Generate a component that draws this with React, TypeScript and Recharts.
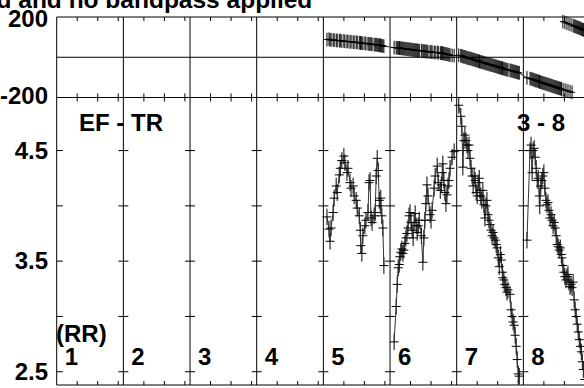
import React from "react";
import { ComposedChart, Line, XAxis, YAxis, ReferenceLine, ErrorBar } from "recharts";

// scan boundaries (minutes), 13 min per scan
const SCAN_EDGES = [13, 26, 39, 52, 65, 78, 91, 104];
const SCAN_STARTS = [0, 13, 26, 39, 52, 65, 78, 91];
const SCAN_NUMBERS = ["1", "2", "3", "4", "5", "6", "7", "8"];
const TIME_TICKS = [4, 8, 12, 17, 21, 25, 30, 34, 38, 43, 47, 51, 56, 60, 64, 69, 73, 77, 82, 86, 90, 95, 99, 103, 108, 112, 116];

const PHASE_TICKS = [200, -200];
const AMP_TICKS = [4.5, 4.0, 3.5, 3.0, 2.5];
const AMP_LABELS = [4.5, 3.5, 2.5];

const TIME_DOMAIN: [number, number] = [0, 117];
const PHASE_DOMAIN: [number, number] = [-200, 200];
const AMP_DOMAIN: [number, number] = [2.38, 4.98];

const AMP_ERR = 0.075;
const PHASE_ERR = 34;

const scan5Time = [52.7, 53.1, 53.3, 53.5, 53.9, 54.1, 54.5, 54.7, 55.1, 55.3, 55.6, 56.0, 56.2, 56.6, 56.8, 57.2, 57.4, 57.8, 58.0, 58.4, 58.6, 59.0, 59.2, 59.3, 59.5, 59.7, 60.1, 60.3, 60.7, 60.9, 61.1, 61.3, 61.5, 61.9, 62.1, 62.3, 62.5, 62.7, 62.9, 63.1, 63.2, 63.4, 63.6, 63.8];
const scan5Amp = [3.90, 3.79, 3.68, 3.80, 3.94, 4.07, 4.18, 4.12, 4.28, 4.34, 4.41, 4.45, 4.39, 4.30, 4.34, 4.21, 4.16, 4.18, 4.09, 4.05, 3.98, 3.91, 3.78, 3.64, 3.57, 3.73, 3.82, 3.87, 3.94, 4.21, 4.23, 3.89, 3.85, 3.91, 3.94, 4.27, 4.43, 4.32, 4.05, 4.00, 4.07, 3.91, 3.80, 3.46];
const scan5Phase = [88, 90, 86, 87, 85, 86, 83, 84, 82, 83, 80, 81, 79, 78, 79, 76, 77, 75, 74, 75, 73, 72, 71, 72, 70, 69, 70, 67, 68, 66, 65, 66, 64, 63, 62, 63, 61, 60, 59, 60, 58, 57, 56, 55];

const scan6Time = [65.8, 66.2, 66.4, 66.6, 66.8, 66.9, 67.1, 67.3, 67.5, 67.7, 67.9, 68.1, 68.3, 68.5, 68.7, 68.9, 69.1, 69.3, 69.5, 69.7, 69.9, 70.1, 70.3, 70.5, 70.7, 71.1, 71.4, 71.6, 71.8, 72.0, 72.2, 72.4, 72.8, 73.0, 73.2, 73.6, 73.8, 74.2, 74.4, 74.8, 75.0, 75.2, 75.3, 75.5, 75.7, 75.9, 76.1, 76.3, 76.5, 76.7, 77.1, 77.5];
const scan6Amp = [2.77, 3.09, 3.29, 3.44, 3.47, 3.54, 3.58, 3.61, 3.57, 3.60, 3.66, 3.71, 3.75, 3.80, 3.91, 3.94, 3.85, 3.78, 3.71, 3.85, 3.93, 3.82, 3.76, 3.82, 3.87, 3.73, 3.49, 3.71, 3.87, 4.02, 4.19, 4.09, 3.92, 3.87, 3.96, 4.16, 4.27, 4.36, 4.21, 4.14, 4.19, 4.30, 4.38, 4.23, 4.12, 4.02, 4.10, 4.18, 4.23, 4.34, 4.44, 4.49];
const scan6Phase = [48, 47, 47, 46, 45, 46, 44, 45, 43, 42, 43, 41, 40, 41, 39, 38, 39, 37, 36, 37, 35, 34, 35, 33, 32, 33, 31, 30, 29, 30, 28, 27, 26, 27, 25, 24, 23, 24, 22, 21, 20, 21, 19, 18, 17, 16, 15, 14, 12, 11, 9, 8];

const scan7Time = [78.4, 78.8, 79.0, 79.2, 79.4, 79.6, 79.8, 80.0, 80.2, 80.4, 80.6, 80.8, 81.0, 81.2, 81.4, 81.6, 81.8, 82.0, 82.2, 82.4, 82.5, 82.7, 82.9, 83.1, 83.3, 83.5, 83.7, 83.9, 84.1, 84.3, 84.5, 84.7, 84.9, 85.1, 85.3, 85.5, 85.7, 85.9, 86.1, 86.3, 86.5, 86.7, 86.9, 87.0, 87.2, 87.4, 87.6, 87.8, 88.0, 88.4, 88.6, 88.8, 89.0, 89.2, 89.4, 89.6, 89.8, 90.0, 90.2];
const scan7Amp = [4.91, 4.81, 4.72, 4.35, 4.59, 4.64, 4.59, 4.55, 4.50, 4.55, 4.43, 4.34, 4.27, 4.18, 4.27, 4.23, 4.12, 4.09, 4.21, 4.25, 4.14, 4.09, 4.05, 4.14, 4.01, 3.89, 4.00, 4.05, 3.92, 3.87, 3.83, 3.78, 3.73, 3.76, 3.71, 3.69, 3.65, 3.62, 3.53, 3.45, 3.56, 3.51, 3.40, 3.35, 3.33, 3.29, 3.26, 3.22, 3.24, 3.20, 3.06, 3.00, 2.95, 2.92, 2.83, 2.73, 2.61, 2.48, 2.46];
const scan7Phase = [10, 7, 7, 4, 2, 2, -1, -2, -4, -5, -7, -7, -10, -11, -12, -15, -15, -18, -19, -20, -22, -23, -25, -26, -27, -30, -30, -33, -34, -35, -37, -38, -40, -40, -43, -44, -45, -48, -48, -51, -52, -53, -55, -55, -58, -59, -60, -62, -63, -65, -66, -68, -69, -71, -72, -74, -75, -77, -78];

const scan8Time = [91.7, 92.3, 92.5, 92.7, 92.9, 93.1, 93.3, 93.5, 93.7, 93.9, 94.1, 94.2, 94.4, 94.6, 94.8, 95.0, 95.2, 95.4, 95.6, 95.8, 96.0, 96.2, 96.4, 96.6, 96.8, 97.0, 97.2, 97.4, 97.6, 97.8, 98.0, 98.2, 98.4, 98.5, 98.7, 98.9, 99.1, 99.3, 99.5, 99.7, 99.9, 100.1, 100.3, 100.5, 100.7, 100.9, 101.1, 101.3, 101.5, 101.7, 101.9, 102.1, 102.3, 102.5, 102.7, 103.0];
const scan8Amp = [3.69, 4.50, 4.55, 4.30, 4.50, 4.52, 4.44, 4.34, 4.23, 4.25, 4.09, 4.00, 4.18, 4.23, 4.27, 4.30, 4.16, 4.05, 4.01, 4.03, 3.96, 3.89, 3.92, 3.87, 3.82, 3.85, 3.80, 3.73, 3.65, 3.63, 3.60, 3.62, 3.56, 3.53, 3.46, 3.40, 3.36, 3.33, 3.36, 3.38, 3.31, 3.27, 3.29, 3.26, 3.31, 3.15, 3.06, 3.00, 2.93, 2.86, 2.79, 2.73, 2.68, 2.59, 2.52, 2.43];
const scan8Phase = [-102, -106, -107, -109, -111, -112, -115, -116, -117, -120, -121, -122, -124, -126, -127, -130, -131, -132, -134, -136, -137, -139, -141, -142, -145, -146, -147, -149, -151, -153, -154, -156, -157, -160, 177, -162, 173, -165, 169, -168, 165, -171, 161, -174, 157, 155, 153, 151, 149, 147, 145, 143, 140, 138, 136, 132];

const scans = [
  { time: scan5Time, amp: scan5Amp, phase: scan5Phase },
  { time: scan6Time, amp: scan6Amp, phase: scan6Phase },
  { time: scan7Time, amp: scan7Amp, phase: scan7Phase },
  { time: scan8Time, amp: scan8Amp, phase: scan8Phase },
];

const ampSeries = scans.map((s) => s.time.map((t, i) => ({ t, amp: s.amp[i], err: AMP_ERR })));
const phaseRows = scans.flatMap((s) => s.time.map((t, i) => ({ t, ph: s.phase[i], err: PHASE_ERR })));
// phases past -180 wrap round to the top of the panel
const phaseMain = phaseRows.filter((r) => r.t < 91 || r.ph < 0);
const phaseWrap = phaseRows.filter((r) => r.t >= 91 && r.ph > 0);

const FONT = "'Liberation Sans', Arial, Helvetica, sans-serif";
const INK = "#000";
const FS = 24;

const crossDot = (half: number) => (props: any) => (
  <line
    key={`c-${props.index}`}
    x1={props.cx - half}
    x2={props.cx + half}
    y1={props.cy}
    y2={props.cy}
    stroke={INK}
    strokeWidth={1}
  />
);

const YTick = (props: any) => {
  const { y, payload } = props;
  const v = payload.value;
  const dy = v === 200 ? 10 : v === -200 ? 6 : 8;
  return (
    <text x={48} y={y + dy} textAnchor="end" fontSize={FS} fontWeight="bold" fontFamily={FONT} fill={INK}>
      {v}
    </text>
  );
};

export default function App() {
  return (
    <div
      style={{
        position: "absolute",
        left: 0,
        top: 0,
        width: 584,
        height: 388,
        overflow: "hidden",
        background: "#fff",
      }}
    >
      {/* phase panel */}
      <div style={{ position: "absolute", left: 0, top: 0 }}>
        <ComposedChart width={660} height={110} margin={{ top: 17, right: 3.3, bottom: 12.5, left: 0 }}>
          <XAxis type="number" dataKey="t" domain={TIME_DOMAIN} allowDataOverflow hide />
          <YAxis
            type="number"
            domain={PHASE_DOMAIN}
            allowDataOverflow
            ticks={PHASE_TICKS}
            width={56.7}
            tick={<YTick />}
            tickLine={false}
            axisLine={{ stroke: INK }}
          />
          <ReferenceLine y={200} stroke={INK} />
          <ReferenceLine y={0} stroke={INK} />
          <ReferenceLine y={-200} stroke={INK} />
          {SCAN_EDGES.map((e) => (
            <ReferenceLine key={`d${e}`} x={e} stroke={INK} />
          ))}
          {TIME_TICKS.map((t) => (
            <ReferenceLine
              key={`tt${t}`}
              segment={[{ x: t, y: 200 }, { x: t, y: 180 }]}
              stroke={INK}
              ifOverflow="visible"
            />
          ))}
          {TIME_TICKS.map((t) => (
            <ReferenceLine
              key={`tm${t}`}
              segment={[{ x: t, y: -180 }, { x: t, y: -220 }]}
              stroke={INK}
              ifOverflow="visible"
            />
          ))}
          <Line
            data={phaseMain}
            dataKey="ph"
            type="linear"
            stroke="#333"
            strokeWidth={1}
            dot={crossDot(3)}
            activeDot={false}
            isAnimationActive={false}
          >
            <ErrorBar dataKey="err" direction="y" width={0} stroke={INK} strokeWidth={1} />
          </Line>
          <Line
            data={phaseWrap}
            dataKey="ph"
            type="linear"
            stroke="#333"
            strokeWidth={1}
            dot={crossDot(3)}
            activeDot={false}
            isAnimationActive={false}
          >
            <ErrorBar dataKey="err" direction="y" width={0} stroke={INK} strokeWidth={1} />
          </Line>
        </ComposedChart>
      </div>

      {/* amplitude panel */}
      <div style={{ position: "absolute", left: 0, top: 0 }}>
        <ComposedChart width={660} height={390} margin={{ top: 97.5, right: 3.3, bottom: 5, left: 0 }}>
          <XAxis type="number" dataKey="t" domain={TIME_DOMAIN} allowDataOverflow hide />
          <YAxis
            type="number"
            domain={AMP_DOMAIN}
            allowDataOverflow
            ticks={AMP_LABELS}
            width={56.7}
            tick={<YTick />}
            tickLine={false}
            axisLine={{ stroke: INK }}
          />
          <ReferenceLine y={AMP_DOMAIN[0]} stroke={INK} />
          {SCAN_EDGES.map((e) => (
            <ReferenceLine key={`d${e}`} x={e} stroke={INK} />
          ))}
          {TIME_TICKS.map((t) => (
            <ReferenceLine
              key={`tb${t}`}
              segment={[{ x: t, y: AMP_DOMAIN[0] }, { x: t, y: AMP_DOMAIN[0] + 0.036 }]}
              stroke={INK}
              ifOverflow="visible"
            />
          ))}
          {AMP_TICKS.map((v) => (
            <ReferenceLine
              key={`yl${v}`}
              segment={[{ x: 0, y: v }, { x: 1.2, y: v }]}
              stroke={INK}
              ifOverflow="visible"
            />
          ))}
          {SCAN_EDGES.flatMap((e) =>
            AMP_TICKS.map((v) => (
              <ReferenceLine
                key={`dt${e}-${v}`}
                segment={[{ x: e - 0.975, y: v }, { x: e + 0.975, y: v }]}
                stroke={INK}
                ifOverflow="visible"
              />
            ))
          )}
          {ampSeries.map((rows, i) => (
            <Line
              key={`amp${i}`}
              data={rows}
              dataKey="amp"
              type="linear"
              stroke="#333"
              strokeWidth={1}
              dot={crossDot(4.5)}
              activeDot={false}
              isAnimationActive={false}
            >
              <ErrorBar dataKey="err" direction="y" width={0} stroke={INK} strokeWidth={1} />
            </Line>
          ))}
        </ComposedChart>
      </div>

      {/* titles and scan labels */}
      <svg
        width={584}
        height={388}
        style={{ position: "absolute", left: 0, top: 0, pointerEvents: "none" }}
        fontFamily={FONT}
        fontWeight="bold"
        fontSize={FS}
        fill={INK}
      >
        <text x={-3.5} y={7.5} fontSize={24.5}>d and no bandpass applied</text>
        <text x={79} y={131}>EF - TR</text>
        <text x={517} y={131}>3 - 8</text>
        <text x={56} y={342}>(RR)</text>
        {SCAN_NUMBERS.map((n, i) => (
          <text key={n} x={56.7 + SCAN_STARTS[i] * (600 / 117) + 8} y={365}>
            {n}
          </text>
        ))}
      </svg>
    </div>
  );
}
